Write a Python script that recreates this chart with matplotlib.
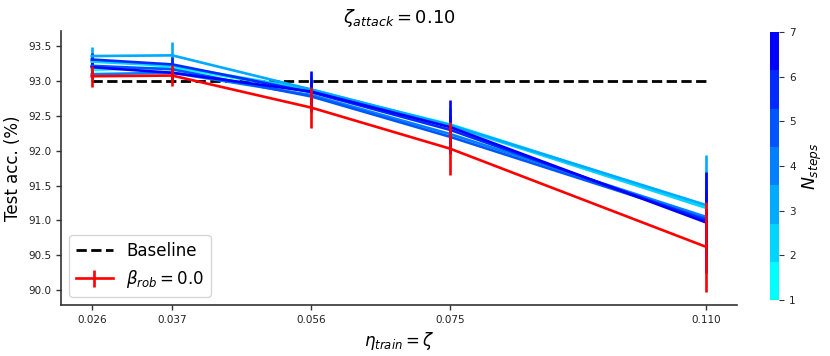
import numpy as np
import matplotlib
matplotlib.use('Agg')
import matplotlib.pyplot as plt
from matplotlib.colors import LinearSegmentedColormap, Normalize
from matplotlib.cm import ScalarMappable

# dados
eta = [0.026, 0.037, 0.056, 0.075, 0.110]
eta_labels = ['0.026', '0.037', '0.056', '0.075', '0.110']
baseline = 93.0

acc_beta0 = [93.07, 93.08, 92.62, 92.03, 90.62]
err_beta0 = [0.15, 0.15, 0.30, 0.38, 0.64]

n_steps = [1, 2, 3, 4, 5, 6, 7]
acc_n1 = [93.16, 93.20, 92.86, 92.38, 91.20]
acc_n2 = [93.28, 93.22, 92.88, 92.36, 91.18]
acc_n3 = [93.36, 93.37, 92.88, 92.37, 91.22]
acc_n4 = [93.10, 93.12, 92.80, 92.24, 91.05]
acc_n5 = [93.22, 93.17, 92.78, 92.20, 91.02]
acc_n6 = [93.31, 93.24, 92.84, 92.30, 91.00]
acc_n7 = [93.20, 93.12, 92.85, 92.34, 90.97]
err_n1 = [0.10, 0.10, 0.15, 0.20, 0.40]
err_n2 = [0.10, 0.10, 0.15, 0.20, 0.40]
err_n3 = [0.13, 0.19, 0.20, 0.25, 0.72]
err_n4 = [0.10, 0.10, 0.15, 0.20, 0.40]
err_n5 = [0.10, 0.10, 0.15, 0.20, 0.40]
err_n6 = [0.10, 0.10, 0.15, 0.20, 0.40]
err_n7 = [0.10, 0.10, 0.30, 0.39, 0.72]

accs = [acc_n1, acc_n2, acc_n3, acc_n4, acc_n5, acc_n6, acc_n7]
errs = [err_n1, err_n2, err_n3, err_n4, err_n5, err_n6, err_n7]

cmap = LinearSegmentedColormap.from_list('cyan_blue', ['cyan', 'blue'], N=7)
norm = Normalize(vmin=1, vmax=7)

fig = plt.figure(figsize=(8.3, 3.56), dpi=100)
ax = fig.add_axes([0.0735, 0.143, 0.8145, 0.770])
cax = fig.add_axes([0.928, 0.157, 0.011, 0.753])

ax.plot([eta[0], eta[-1]], [baseline, baseline], color='black', linestyle='--',
        linewidth=2, label='Baseline', zorder=2)

for n, acc, err in zip(n_steps, accs, errs):
    ax.errorbar(eta, acc, yerr=err, color=cmap(norm(n)), linewidth=1.9,
                elinewidth=1.9, capsize=0, zorder=3)

ax.errorbar(eta, acc_beta0, yerr=err_beta0, color='red', linewidth=1.9,
            elinewidth=1.9, capsize=0, label=r'$\beta_{rob} = 0.0$', zorder=4)

ax.set_xlim(0.02180, 0.11420)
ax.set_ylim(89.785, 93.72)
ax.set_xticks(eta)
ax.set_xticklabels(eta_labels)
ax.set_yticks([90.0, 90.5, 91.0, 91.5, 92.0, 92.5, 93.0, 93.5])
ax.tick_params(labelsize=7.5, length=3.5, width=1, colors='#333333', labelcolor='#222222')
for s in ['top', 'right']:
    ax.spines[s].set_visible(False)
for s in ['left', 'bottom']:
    ax.spines[s].set_color('#333333')
    ax.spines[s].set_linewidth(1.2)

ax.set_title(r'$\zeta_{attack} = 0.10$', fontsize=13)
ax.set_xlabel(r'$\eta_{train} = \zeta$', fontsize=12)
ax.set_ylabel('Test acc. (%)', fontsize=12)
ax.legend(loc='lower left', fontsize=12, handlelength=2.2)

sm = ScalarMappable(norm=norm, cmap=cmap)
cb = fig.colorbar(sm, cax=cax, ticks=n_steps)
cb.outline.set_visible(False)
cb.ax.tick_params(labelsize=7.5, length=3.5, colors='#333333', labelcolor='#222222')
cb.set_label(r'$N_{steps}$', fontsize=12.5)

fig.savefig('out.png', dpi=100)
